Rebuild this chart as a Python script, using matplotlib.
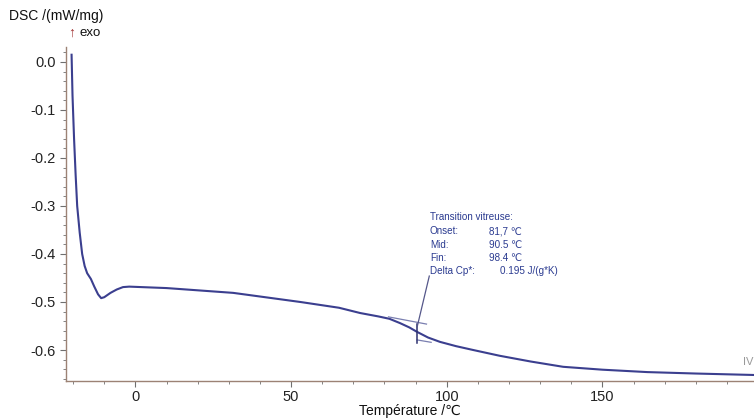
import numpy as np
import matplotlib
matplotlib.use('Agg')
import matplotlib.pyplot as plt
from matplotlib.ticker import MultipleLocator

plt.rcParams['font.family'] = ['Liberation Sans', 'DejaVu Sans']

# DSC curve
temp = [-20.5, -20.2, -19.7, -19.2, -18.7, -17.9, -17.1, -16.3, -15.5, -14.3,
        -13.2, -12.0, -11.0, -10.0, -8.0, -6.0, -4.0, -2.0, 10, 31.4,
        53, 65.4, 72.2, 78.0, 81.6, 85, 88.0, 90.4, 94.0, 97.8,
        103.0, 108.5, 117, 127.0, 137.4, 150.0, 164.4, 180.0, 198.5]
dsc = [0.015, -0.07, -0.16, -0.235, -0.30, -0.355, -0.40, -0.425, -0.44, -0.452,
       -0.468, -0.484, -0.492, -0.490, -0.481, -0.474, -0.469, -0.468, -0.471, -0.481,
       -0.500, -0.512, -0.523, -0.530, -0.535, -0.544, -0.553, -0.562, -0.574, -0.583,
       -0.592, -0.600, -0.612, -0.624, -0.635, -0.641, -0.646, -0.649, -0.652]

# glass transition construction lines
upper_t = [81.3, 93.5]
upper_v = [-0.531, -0.546]
lower_t = [90.5, 95.0]
lower_v = [-0.579, -0.584]
mid_t = 90.5
mid_v = [-0.546, -0.586]

labels = ['Onset:', 'Mid:', 'Fin:']
values = ['81,7 \u2103', '90.5 \u2103', '98.4 \u2103']
cp_label = 'Delta Cp*:'
cp_value = '0.195 J/(g*K)'

fig = plt.figure(figsize=(7.54, 4.19), dpi=100)
ax = fig.add_axes([0.0875, 0.0895, 0.9125, 0.7985])

curve_col = '#3b3f8f'
ax.plot(temp, dsc, color=curve_col, lw=1.5)
ax.plot(upper_t, upper_v, color='#7a7fb0', lw=0.9)
ax.plot(lower_t, lower_v, color='#7a7fb0', lw=0.9)
ax.plot([mid_t, mid_t], mid_v, color='#2e3270', lw=1.1)
ax.plot([mid_t, 94.4], [-0.552, -0.446], color='#55578a', lw=0.9)

txt_col = '#2a3a90'
fs = 7.1
ax.text(94.6, -0.323, 'Transition vitreuse:', fontsize=fs, color=txt_col, va='center')
ys = [-0.353, -0.381, -0.408]
for lab, val, y in zip(labels, values, ys):
    ax.text(94.6, y, lab, fontsize=fs, color=txt_col, va='center')
    ax.text(113.7, y, val, fontsize=fs, color=txt_col, va='center')
ax.text(94.6, -0.436, cp_label, fontsize=fs, color=txt_col, va='center')
ax.text(117.0, -0.436, cp_value, fontsize=fs, color=txt_col, va='center')

ax.set_xlim(-22.3, 198.7)
ax.set_ylim(-0.6656, 0.03125)

spine_col = '#9c8275'
for s in ['top', 'right']:
    ax.spines[s].set_visible(False)
for s in ['left', 'bottom']:
    ax.spines[s].set_color(spine_col)
    ax.spines[s].set_linewidth(1.0)

ax.xaxis.set_major_locator(MultipleLocator(50))
ax.xaxis.set_minor_locator(MultipleLocator(10))
ax.yaxis.set_major_locator(MultipleLocator(0.1))
ax.yaxis.set_minor_locator(MultipleLocator(0.02))
ax.tick_params(which='both', direction='out', color='#6f6f6f', labelsize=10.5, labelcolor='#222222')
ax.tick_params(which='major', length=4)
ax.tick_params(which='minor', length=2.5)
ax.tick_params(axis='x', pad=2)
ax.yaxis.set_major_formatter(matplotlib.ticker.FormatStrFormatter('%.1f'))

ax.set_xlabel('Température /\u2103', fontsize=10, labelpad=0, color='#111111')
fig.text(0.012, 0.962, 'DSC /(mW/mg)', fontsize=10, color='#111111', va='center')
fig.text(0.091, 0.922, '\u2191', fontsize=10, color='#a03030', va='center')
fig.text(0.106, 0.922, 'exo', fontsize=9.5, color='#111111', va='center')
fig.text(0.985, 0.135, 'IV', fontsize=8, color='#999999', va='center')

fig.savefig('out.png', dpi=100)
